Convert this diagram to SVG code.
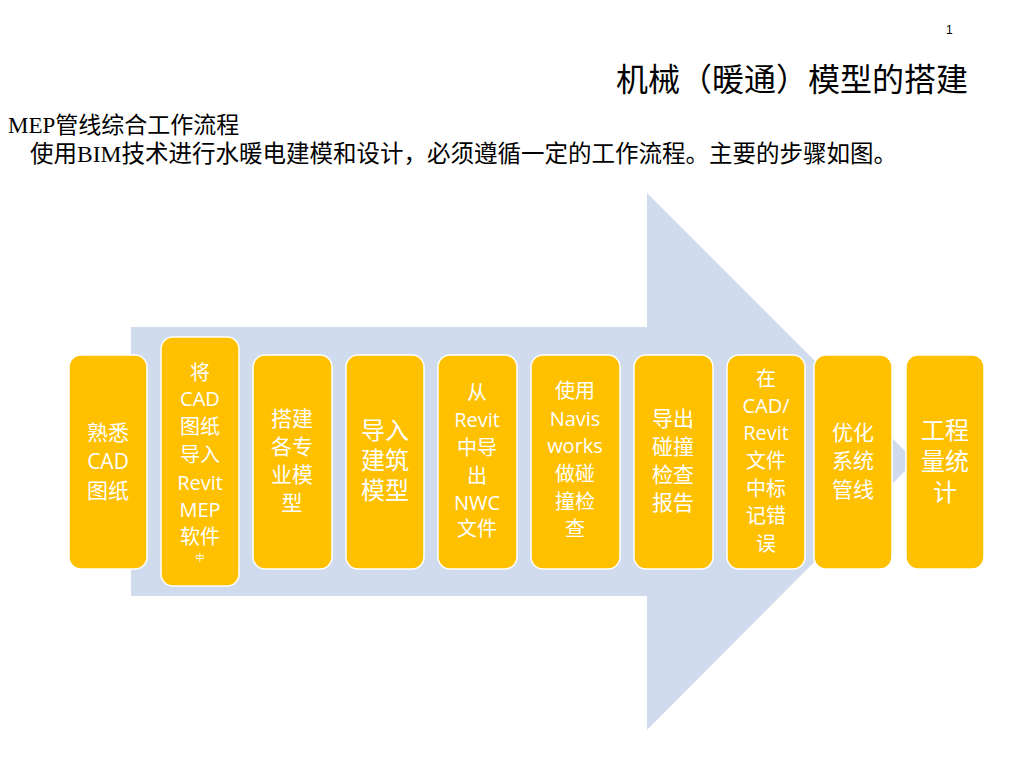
<svg xmlns="http://www.w3.org/2000/svg" width="1024" height="768" viewBox="0 0 1024 768">
<style>
.b{fill:#FFC000;stroke:#fff;stroke-width:1.5}
.t{fill:#fff;font-family:"Open Sans","Noto Sans CJK SC",sans-serif;text-anchor:middle}
.s{font-size:21px}.m{font-size:20px}.l{font-size:24px}
.h{font-family:"Liberation Serif","Noto Sans CJK SC",serif;fill:#000}
</style>
<rect width="1024" height="768" fill="#fff"/>
<text x="946" y="34" style="font-family:'Liberation Sans',sans-serif;font-size:12px">1</text>
<text class="h" x="968" y="91" style="font-size:32px" text-anchor="end">机械（暖通）模型的搭建</text>
<text class="h" x="8" y="133" style="font-size:23px">MEP管线综合工作流程</text>
<text class="h" x="30" y="162" style="font-size:23.5px">使用BIM技术进行水暖电建模和设计，必须遵循一定的工作流程。主要的步骤如图。</text>
<g id="arrow"><polygon points="131,327 647,327 647,193 915,461 647,730 647,596 131,596" fill="#D0DCEE"/></g>
<g id="connectors"></g>
<g id="n1"><rect class="b" x="69" y="355" width="78" height="214" rx="12"/><text class="t s"><tspan x="108" y="440">熟悉</tspan><tspan x="108" y="469">CAD</tspan><tspan x="108" y="498">图纸</tspan></text></g>
<g id="n2"><rect class="b" x="161" y="337" width="78" height="249" rx="12"/><text class="t m"><tspan x="200" y="380">将</tspan><tspan x="200" y="406">CAD</tspan><tspan x="200" y="434">图纸</tspan><tspan x="200" y="462">导入</tspan><tspan x="200" y="490">Revit</tspan><tspan x="200" y="517">MEP</tspan><tspan x="200" y="544">软件</tspan><tspan x="200" y="561" style="font-size:9px">中</tspan></text></g>
<g id="n3"><rect class="b" x="253" y="355" width="79" height="214" rx="12"/><text class="t s"><tspan x="292" y="426">搭建</tspan><tspan x="292" y="454">各专</tspan><tspan x="292" y="482">业模</tspan><tspan x="292" y="510">型</tspan></text></g>
<g id="n4"><rect class="b" x="346" y="355" width="78" height="214" rx="12"/><text class="t l"><tspan x="385" y="439">导入</tspan><tspan x="385" y="469">建筑</tspan><tspan x="385" y="499">模型</tspan></text></g>
<g id="n5"><rect class="b" x="438" y="355" width="79" height="214" rx="12"/><text class="t m"><tspan x="477" y="400">从</tspan><tspan x="477" y="427">Revit</tspan><tspan x="477" y="455">中导</tspan><tspan x="477" y="483">出</tspan><tspan x="477" y="510">NWC</tspan><tspan x="477" y="536">文件</tspan></text></g>
<g id="n6"><rect class="b" x="531" y="355" width="89" height="214" rx="12"/><text class="t m"><tspan x="575" y="398">使用</tspan><tspan x="575" y="426">Navis</tspan><tspan x="575" y="453">works</tspan><tspan x="575" y="481">做碰</tspan><tspan x="575" y="509">撞检</tspan><tspan x="575" y="536">查</tspan></text></g>
<g id="n7"><rect class="b" x="634" y="355" width="79" height="214" rx="12"/><text class="t s"><tspan x="673" y="426">导出</tspan><tspan x="673" y="454">碰撞</tspan><tspan x="673" y="482">检查</tspan><tspan x="673" y="510">报告</tspan></text></g>
<g id="n8"><rect class="b" x="727" y="355" width="78" height="214" rx="12"/><text class="t m"><tspan x="766" y="386">在</tspan><tspan x="766" y="413">CAD/</tspan><tspan x="766" y="440">Revit</tspan><tspan x="766" y="468">文件</tspan><tspan x="766" y="496">中标</tspan><tspan x="766" y="523">记错</tspan><tspan x="766" y="551">误</tspan></text></g>
<g id="n9"><rect class="b" x="814" y="355" width="78" height="214" rx="12"/><text class="t s"><tspan x="853" y="440">优化</tspan><tspan x="853" y="468">系统</tspan><tspan x="853" y="497">管线</tspan></text></g>
<g id="n10"><rect class="b" x="906" y="355" width="78" height="214" rx="12"/><text class="t l"><tspan x="945" y="439">工程</tspan><tspan x="945" y="470">量统</tspan><tspan x="945" y="501">计</tspan></text></g>
</svg>
